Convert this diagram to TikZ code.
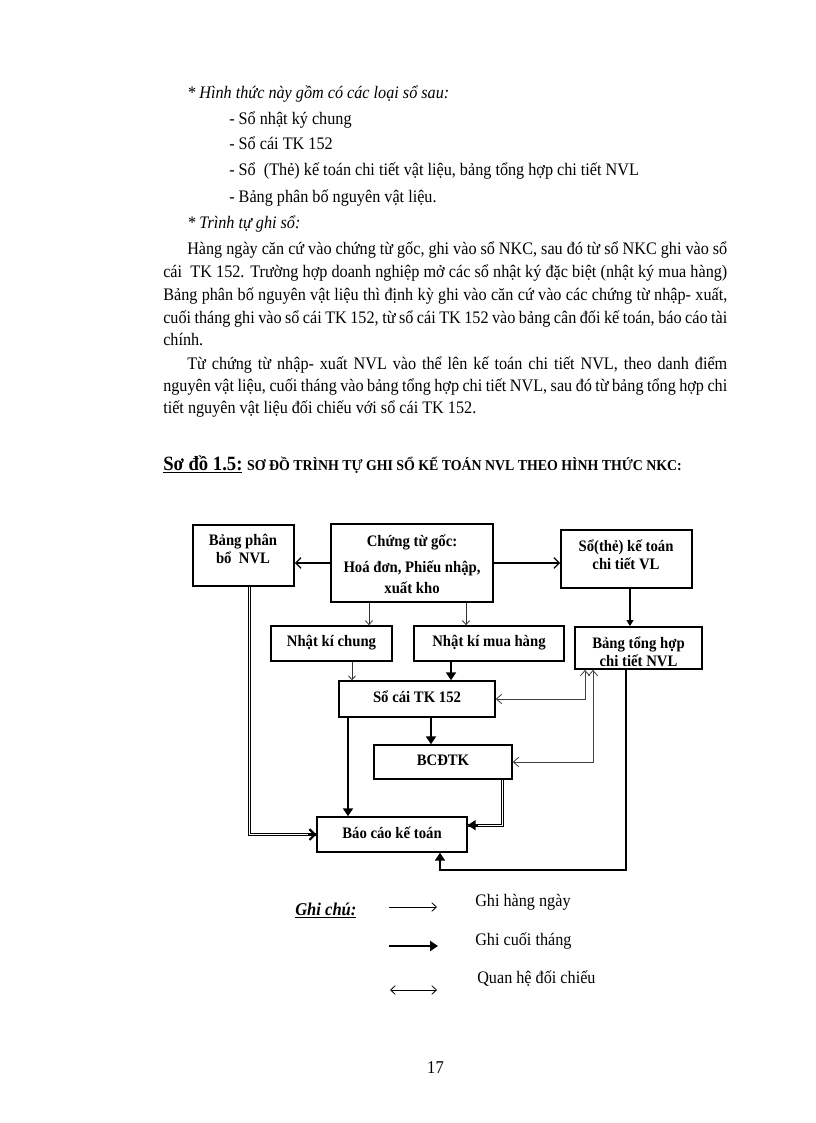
\documentclass[tikz,border=0pt]{standalone}
\usepackage{fontspec}
\setmainfont{Liberation Serif}[FakeStretch=0.92]
\usetikzlibrary{arrows.meta}
\tikzset{
  bodytxt/.style={inner sep=0pt, anchor=mid west, font=\fontsize{13.2}{15}\selectfont},
  boxA/.style={draw, line width=1.3pt, inner sep=0pt},
  boxB/.style={draw, line width=1.1pt, inner sep=0pt},
  boxtxt/.style={inner sep=0pt, align=center, font=\bfseries\fontsize{12}{13.5}\selectfont},
  dayArrow/.style={draw=black!80, line width=0.6pt, -{Straight Barb[length=3pt,width=5.5pt]}},
  dayBig/.style={draw=black, line width=0.9pt, -{Straight Barb[length=4pt,width=8pt]}},
  monthArrow/.style={draw=black, line width=2pt, -{Triangle[length=6pt,width=7.5pt]}},
  medArrow/.style={draw=black, line width=1.4pt, -{Triangle[length=4.5pt,width=5pt]}},
  cmpArrow/.style={draw=black!75, line width=0.6pt, {Straight Barb[length=4pt,width=7pt]}-{Straight Barb[length=4pt,width=7pt]}},
  dblArrow/.style={draw=black, double=white, line width=0.6pt, double distance=0.8pt},
  legtxt/.style={inner sep=0pt, anchor=mid west, font=\fontsize{13.2}{15}\selectfont},
}
\begin{document}
\begin{tikzpicture}[x=0.75pt,y=-0.75pt]
\fill[white] (0,0) rectangle (816,1123);
\useasboundingbox (0,0) rectangle (816,1123);

% ---- body text ----
\node[bodytxt] (t1) at (187,95) {\itshape * Hình thức này gồm có các loại sổ sau:};
\node[bodytxt] (t2) at (229,121) {- Sổ nhật ký chung};
\node[bodytxt] (t3) at (229,146) {- Sổ cái TK 152};
\node[bodytxt] (t4) at (229,172) {- Sổ\ \ (Thẻ) kế toán chi tiết vật liệu, bảng tổng hợp chi tiết NVL};
\node[bodytxt] (t5) at (229,199) {- Bảng phân bố nguyên vật liệu.};
\node[bodytxt] (t6) at (187,225) {\itshape * Trình tự ghi sổ:};
\node[bodytxt] (p1) at (187,251) {\makebox[405pt][s]{Hàng ngày căn cứ vào chứng từ gốc, ghi vào sổ NKC, sau đó từ sổ NKC ghi vào sổ}};
\node[bodytxt] (p2) at (163,274) {\makebox[423pt][s]{cái\ \ TK 152. Trường hợp doanh nghiệp mở các sổ nhật ký đặc biệt (nhật ký mua hàng)}};
\node[bodytxt] (p3) at (163,297) {\makebox[423pt][s]{Bảng phân bố nguyên vật liệu thì định kỳ ghi vào căn cứ vào các chứng từ nhập- xuất,}};
\node[bodytxt] (p4) at (163,320) {\makebox[423pt][s]{cuối tháng ghi vào sổ cái TK 152, từ sổ cái TK 152 vào bảng cân đối kế toán, báo cáo tài}};
\node[bodytxt] (p5) at (163,342) {chính.};
\node[bodytxt] (q1) at (187,366) {\makebox[405pt][s]{Từ chứng từ nhập- xuất NVL vào thể lên kế toán chi tiết NVL, theo danh điểm}};
\node[bodytxt] (q2) at (163,388) {\makebox[423pt][s]{nguyên vật liệu, cuối tháng vào bảng tổng hợp chi tiết NVL, sau đó từ bảng tổng hợp chi}};
\node[bodytxt] (q3) at (163,410) {tiết nguyên vật liệu đối chiếu với sổ cái TK 152.};

% ---- heading ----
\node[inner sep=0pt, anchor=base west] (hd) at (163,470) {\fontsize{15.2}{17}\selectfont\bfseries\underline{Sơ đồ 1.5:}\ \fontsize{11.3}{13}\selectfont SƠ ĐỒ TRÌNH TỰ GHI SỔ KẾ TOÁN NVL THEO HÌNH THỨC NKC:};

% ---- boxes ----
\node[boxA, minimum width=75.75pt, minimum height=45.75pt] (bpb) at (243.5,555.5) {};
\node[boxA, minimum width=121.5pt, minimum height=58.5pt] (ctg) at (412,563) {};
\node[boxA, minimum width=98.25pt, minimum height=43.5pt] (sct) at (626.5,559) {};
\node[boxA, minimum width=90.75pt, minimum height=26.25pt] (nkc) at (331.5,643.5) {};
\node[boxA, minimum width=112.5pt, minimum height=26.25pt] (nkm) at (489,643.5) {};
\node[boxA, minimum width=95.25pt, minimum height=31.5pt] (bth) at (638.5,648) {};
\node[boxB, minimum width=117pt, minimum height=27pt] (scs) at (417,699) {};
\node[boxB, minimum width=103.5pt, minimum height=25.5pt] (bcd) at (443,762) {};
\node[boxB, minimum width=112.5pt, minimum height=26.25pt] (bckt) at (392,834.5) {};

% ---- box texts ----
\node[boxtxt] (bpbT) at (243,549) {Bảng phân\\bổ\ \ NVL};
\node[boxtxt, anchor=mid] (ctgT1) at (412,543.5) {Chứng từ gốc:};
\node[boxtxt, anchor=mid] (ctgT2) at (412,569.5) {Hoá đơn, Phiếu nhập,};
\node[boxtxt, anchor=mid] (ctgT3) at (412,590.5) {xuất kho};
\node[boxtxt] (sctT) at (626,555) {Sổ(thẻ) kế toán\\chi tiết VL};
\node[boxtxt, anchor=mid] (nkcT) at (331.5,643) {Nhật kí chung};
\node[boxtxt, anchor=mid] (nkmT) at (489,643) {Nhật kí mua hàng};
\node[boxtxt] (bthT) at (638.5,652) {Bảng tổng hợp\\chi tiết NVL};
\node[boxtxt, anchor=mid] (scsT) at (417,699) {Sổ cái TK 152};
\node[boxtxt, anchor=mid] (bcdT) at (443,762) {BCĐTK};
\node[boxtxt, anchor=mid] (bcktT) at (392,835.5) {Báo cáo kế toán};

% ---- helper coordinates ----
\coordinate (xa) at (369,0);
\coordinate (xb) at (466,0);
\coordinate (xc) at (630,0);
\coordinate (xd) at (352,0);
\coordinate (xe) at (451,0);
\coordinate (xf) at (431,0);
\coordinate (xg) at (348,0);
\coordinate (xh) at (249.5,0);
\coordinate (xi) at (502.5,0);
\coordinate (c1) at (626,870);
\coordinate (c2) at (440,870);
\coordinate (xj) at (585,0);
\coordinate (xk) at (593,0);

% ---- connectors ----
\draw[dayBig] (ctg.west) -- (ctg.west -| bpb.east);
\draw[dayBig] (ctg.east) -- (ctg.east -| sct.west);
\draw[dayArrow] (xa |- ctg.south) -- (xa |- nkc.north);
\draw[dayArrow] (xb |- ctg.south) -- (xb |- nkm.north);
\draw[medArrow] (xc |- sct.south) -- (xc |- bth.north);
\draw[dayArrow] (xd |- nkc.south) -- (xd |- scs.north);
\draw[monthArrow] (xe |- nkm.south) -- (xe |- scs.north);
\draw[monthArrow] (xf |- scs.south) -- (xf |- bcd.north);
\draw[monthArrow] (xg |- scs.south) -- (xg |- bckt.north);
\draw[dblArrow] (xh |- bpb.south) |- (bckt.west);
\draw[line width=1.6pt, -{Straight Barb[length=4pt,width=8pt]}] ([xshift=-6pt]bckt.west) -- (bckt.west);
\draw[dblArrow] (xi |- bcd.south) |- ([yshift=7pt]bckt.east);
\draw[monthArrow] ([xshift=8pt,yshift=7pt]bckt.east) -- ([yshift=7pt]bckt.east);
\draw[monthArrow] (c1 |- bth.south) -- (c1) -- (c2) -- (c2 |- bckt.south);
\draw[cmpArrow] (scs.east) -| (xj |- bth.south);
\draw[cmpArrow] (bcd.east) -| (xk |- bth.south);

% ---- legend ----
\node[inner sep=0pt, anchor=mid west, font=\bfseries\itshape\fontsize{13.5}{15}\selectfont] (gc) at (295,912) {\underline{Ghi chú:}};
\coordinate (la1) at (389,907);
\coordinate (la2) at (437,907);
\coordinate (lb1) at (389,946);
\coordinate (lb2) at (438,946);
\coordinate (lc1) at (390,990);
\coordinate (lc2) at (437,990);
\draw[draw=black, line width=0.6pt, -{Straight Barb[length=3.5pt,width=6.5pt]}] (la1) -- (la2);
\draw[monthArrow] (lb1) -- (lb2);
\draw[draw=black, line width=0.6pt, {Straight Barb[length=3.5pt,width=6.5pt]}-{Straight Barb[length=3.5pt,width=6.5pt]}] (lc1) -- (lc2);
\node[legtxt] (lg1) at (475,903) {Ghi hàng ngày};
\node[legtxt] (lg2) at (475,942) {Ghi cuối tháng};
\node[legtxt] (lg3) at (477,980) {Quan hệ đối chiếu};
\node[inner sep=0pt, font=\fontsize{13.5}{15}\selectfont] (pg) at (435.5,1068) {17};
\end{tikzpicture}
\end{document}
